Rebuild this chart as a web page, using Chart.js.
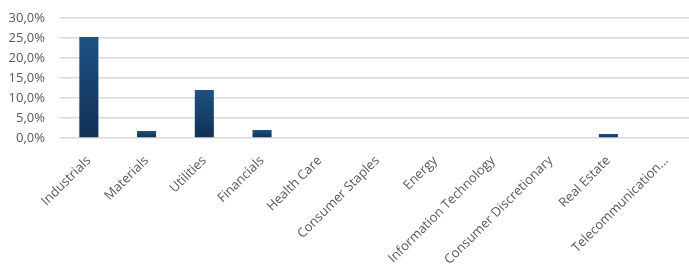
<!DOCTYPE html>
<html>
<head>
<meta charset="utf-8">
<script src="https://cdn.jsdelivr.net/npm/chart.js@4"></script>
<style>
  html, body { margin: 0; padding: 0; background: #fff; overflow: hidden; }
  #wrap { width: 695px; height: 265px; }
</style>
</head>
<body>
<div id="wrap"><canvas id="myChart"></canvas></div>
<script>
const sectors = ['Industrials', 'Materials', 'Utilities', 'Financials', 'Health Care',
  'Consumer Staples', 'Energy', 'Information Technology', 'Consumer Discretionary',
  'Real Estate', 'Telecommunication...'];
const weights = [25.25, 1.75, 12.0, 2.0, 0, 0, 0, 0, 0, 1.0, 0];
const yTicks = [0, 5, 10, 15, 20, 25, 30];

// each bar gets its own top-to-bottom gradient
const barFill = (context) => {
  const chart = context.chart;
  const area = chart.chartArea;
  if (!area || context.type !== 'data') return '#1a4a78';
  const y = chart.scales.y;
  const top = y.getPixelForValue(context.parsed.y);
  const bottom = y.getPixelForValue(0);
  if (bottom - top < 1) return '#1a4a78';
  const g = chart.ctx.createLinearGradient(0, top, 0, bottom);
  g.addColorStop(0, '#1d5184');
  g.addColorStop(1, '#0f3053');
  return g;
};

const ctx = document.getElementById('myChart').getContext('2d');
new Chart(ctx, {
  type: 'bar',
  data: {
    labels: sectors,
    datasets: [{
      data: weights,
      backgroundColor: barFill,
      borderWidth: 0,
      barPercentage: 0.66,
      categoryPercentage: 0.5,
    }],
  },
  options: {
    responsive: true,
    maintainAspectRatio: false,
    animation: false,
    layout: { padding: { top: 18, right: 0, left: 0, bottom: 0 } },
    plugins: { legend: { display: false }, tooltip: { enabled: false } },
    scales: {
      x: {
        grid: { display: false },
        border: { display: false },
        ticks: {
          color: '#595959',
          font: { family: 'Open Sans', size: 13 },
          maxRotation: 45,
          minRotation: 45,
          autoSkip: false,
          padding: 7,
        },
        afterFit: (scale) => { scale.height = 127; },
      },
      y: {
        min: 0,
        max: 30,
        afterBuildTicks: (scale) => { scale.ticks = yTicks.map(v => ({ value: v })); },
        grid: { color: '#d9d9d9', lineWidth: 1.5, drawTicks: false },
        border: { display: false },
        ticks: {
          color: '#595959',
          font: { family: 'Open Sans', size: 13 },
          padding: 15,
          callback: (v) => v.toFixed(1).replace('.', ',') + '%',
        },
        afterFit: (scale) => {
          scale.width = 60;
          scale.paddingTop = 0;
          scale.paddingBottom = 0;
        },
      },
    },
  },
});
</script>
</body>
</html>
